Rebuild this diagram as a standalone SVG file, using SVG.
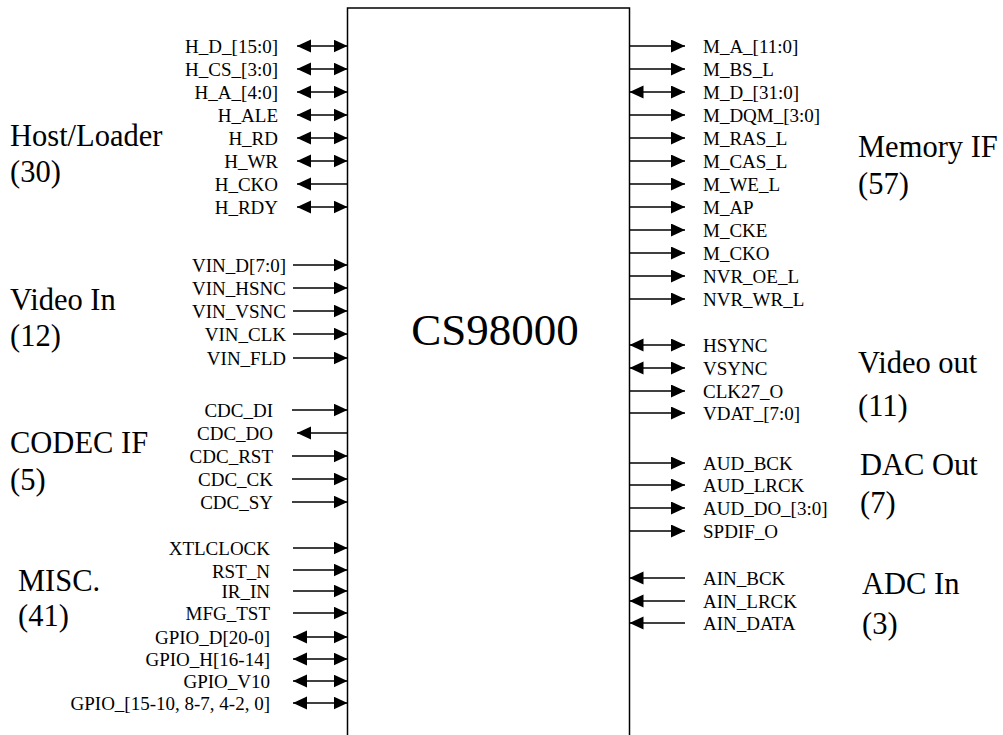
<svg xmlns="http://www.w3.org/2000/svg" width="1003" height="735" viewBox="0 0 1003 735">
<style>
text{font-family:"Liberation Serif","Times New Roman",serif;fill:#000}
.s{font-size:19px}
.sl{font-size:19px;text-anchor:end}
.g{font-size:30.5px}
.t{font-size:45px;text-anchor:middle}
.w{stroke:#000;stroke-width:1.4;fill:none}
.o{marker-end:url(#ah)}
.b{marker-start:url(#ah);marker-end:url(#ah)}
</style>
<defs>
<marker id="ah" markerUnits="userSpaceOnUse" markerWidth="15" markerHeight="14" refX="14" refY="6.5" orient="auto-start-reverse" viewBox="0 0 15 14">
<path d="M0,0 L14,6.5 L0,13 z" fill="#000"/>
</marker>
</defs>
<rect width="1003" height="735" fill="#fff"/>
<g id="chip">
<rect x="347.5" y="8" width="282" height="740" fill="none" stroke="#000" stroke-width="1.5"/>
<text class="t" x="495" y="345">CS98000</text>
</g>
<g id="groups">
<text class="g" x="10" y="146">Host/Loader</text>
<text class="g" x="10" y="182">(30)</text>
<text class="g" x="10" y="310">Video In</text>
<text class="g" x="10" y="346">(12)</text>
<text class="g" x="10" y="453">CODEC IF</text>
<text class="g" x="10" y="490">(5)</text>
<text class="g" x="18" y="591">MISC.</text>
<text class="g" x="18" y="626">(41)</text>
<text class="g" x="858" y="157">Memory IF</text>
<text class="g" x="858" y="194">(57)</text>
<text class="g" x="858" y="373">Video out</text>
<text class="g" x="858" y="416">(11)</text>
<text class="g" x="860" y="475">DAC Out</text>
<text class="g" x="860" y="513">(7)</text>
<text class="g" x="862" y="594">ADC In</text>
<text class="g" x="862" y="634">(3)</text>
</g>
<g id="labels-left">
<text class="sl" x="278" y="52.5">H_D_[15:0]</text>
<text class="sl" x="278" y="75.5">H_CS_[3:0]</text>
<text class="sl" x="278" y="98.5">H_A_[4:0]</text>
<text class="sl" x="278" y="121.5">H_ALE</text>
<text class="sl" x="278" y="144.5">H_RD</text>
<text class="sl" x="278" y="167.5">H_WR</text>
<text class="sl" x="278" y="190.5">H_CKO</text>
<text class="sl" x="278" y="213.5">H_RDY</text>
<text class="sl" x="286" y="271.5">VIN_D[7:0]</text>
<text class="sl" x="286" y="294.5">VIN_HSNC</text>
<text class="sl" x="286" y="317.5">VIN_VSNC</text>
<text class="sl" x="286" y="340.5">VIN_CLK</text>
<text class="sl" x="286" y="364.5">VIN_FLD</text>
<text class="sl" x="273" y="416.5">CDC_DI</text>
<text class="sl" x="273" y="439.5">CDC_DO</text>
<text class="sl" x="273" y="462.5">CDC_RST</text>
<text class="sl" x="273" y="485.5">CDC_CK</text>
<text class="sl" x="273" y="508.5">CDC_SY</text>
<text class="sl" x="270" y="555">XTLCLOCK</text>
<text class="sl" x="270" y="578">RST_N</text>
<text class="sl" x="270" y="598">IR_IN</text>
<text class="sl" x="270" y="620">MFG_TST</text>
<text class="sl" x="270" y="643.5">GPIO_D[20-0]</text>
<text class="sl" x="270" y="665.5">GPIO_H[16-14]</text>
<text class="sl" x="270" y="687.5">GPIO_V10</text>
<text class="sl" x="270" y="709.5">GPIO_[15-10, 8-7, 4-2, 0]</text>
</g>
<g id="labels-right">
<text class="s" x="703" y="52.5">M_A_[11:0]</text>
<text class="s" x="703" y="75.5">M_BS_L</text>
<text class="s" x="703" y="98.5">M_D_[31:0]</text>
<text class="s" x="703" y="121.5">M_DQM_[3:0]</text>
<text class="s" x="703" y="144.5">M_RAS_L</text>
<text class="s" x="703" y="167.5">M_CAS_L</text>
<text class="s" x="703" y="190.5">M_WE_L</text>
<text class="s" x="703" y="213.5">M_AP</text>
<text class="s" x="703" y="236.5">M_CKE</text>
<text class="s" x="703" y="259.5">M_CKO</text>
<text class="s" x="703" y="282.5">NVR_OE_L</text>
<text class="s" x="703" y="305.5">NVR_WR_L</text>
<text class="s" x="703" y="351.5">HSYNC</text>
<text class="s" x="703" y="374.5">VSYNC</text>
<text class="s" x="703" y="397.5">CLK27_O</text>
<text class="s" x="703" y="420">VDAT_[7:0]</text>
<text class="s" x="703" y="469.5">AUD_BCK</text>
<text class="s" x="703" y="492">AUD_LRCK</text>
<text class="s" x="703" y="515">AUD_DO_[3:0]</text>
<text class="s" x="703" y="538">SPDIF_O</text>
<text class="s" x="703" y="585">AIN_BCK</text>
<text class="s" x="703" y="608">AIN_LRCK</text>
<text class="s" x="703" y="630">AIN_DATA</text>
</g>
<g id="connectors" class="w">
<line class="b" x1="297" y1="46" x2="347.5" y2="46"/>
<line class="b" x1="297" y1="69" x2="347.5" y2="69"/>
<line class="b" x1="297" y1="92" x2="347.5" y2="92"/>
<line class="b" x1="297" y1="115" x2="347.5" y2="115"/>
<line class="b" x1="297" y1="138" x2="347.5" y2="138"/>
<line class="b" x1="297" y1="161" x2="347.5" y2="161"/>
<line class="o" x1="347.5" y1="184" x2="297" y2="184"/>
<line class="b" x1="297" y1="207" x2="347.5" y2="207"/>
<line class="o" x1="293" y1="265" x2="347.5" y2="265"/>
<line class="o" x1="293" y1="288" x2="347.5" y2="288"/>
<line class="o" x1="293" y1="311" x2="347.5" y2="311"/>
<line class="o" x1="293" y1="334" x2="347.5" y2="334"/>
<line class="o" x1="293" y1="358" x2="347.5" y2="358"/>
<line class="o" x1="292" y1="410" x2="347.5" y2="410"/>
<line class="o" x1="347.5" y1="433" x2="297" y2="433"/>
<line class="o" x1="292" y1="456" x2="347.5" y2="456"/>
<line class="o" x1="292" y1="479" x2="347.5" y2="479"/>
<line class="o" x1="292" y1="502" x2="347.5" y2="502"/>
<line class="o" x1="293" y1="548" x2="347.5" y2="548"/>
<line class="o" x1="293" y1="570" x2="347.5" y2="570"/>
<line class="o" x1="293" y1="591" x2="347.5" y2="591"/>
<line class="o" x1="293" y1="613" x2="347.5" y2="613"/>
<line class="b" x1="293" y1="637" x2="347.5" y2="637"/>
<line class="b" x1="293" y1="659" x2="347.5" y2="659"/>
<line class="b" x1="293" y1="681" x2="347.5" y2="681"/>
<line class="b" x1="293" y1="703" x2="347.5" y2="703"/>
<line class="o" x1="629.5" y1="46" x2="685" y2="46"/>
<line class="o" x1="629.5" y1="69" x2="685" y2="69"/>
<line class="b" x1="629.5" y1="92" x2="685" y2="92"/>
<line class="o" x1="629.5" y1="115" x2="685" y2="115"/>
<line class="o" x1="629.5" y1="138" x2="685" y2="138"/>
<line class="o" x1="629.5" y1="161" x2="685" y2="161"/>
<line class="o" x1="629.5" y1="184" x2="685" y2="184"/>
<line class="o" x1="629.5" y1="207" x2="685" y2="207"/>
<line class="o" x1="629.5" y1="230" x2="685" y2="230"/>
<line class="o" x1="629.5" y1="253" x2="685" y2="253"/>
<line class="o" x1="629.5" y1="276" x2="685" y2="276"/>
<line class="o" x1="629.5" y1="299" x2="685" y2="299"/>
<line class="b" x1="629.5" y1="345" x2="685" y2="345"/>
<line class="b" x1="629.5" y1="368" x2="685" y2="368"/>
<line class="o" x1="629.5" y1="391" x2="685" y2="391"/>
<line class="o" x1="629.5" y1="413" x2="685" y2="413"/>
<line class="o" x1="629.5" y1="463" x2="685" y2="463"/>
<line class="o" x1="629.5" y1="485" x2="685" y2="485"/>
<line class="o" x1="629.5" y1="508" x2="685" y2="508"/>
<line class="o" x1="629.5" y1="531" x2="685" y2="531"/>
<line class="o" x1="685" y1="578" x2="629.5" y2="578"/>
<line class="o" x1="685" y1="601" x2="629.5" y2="601"/>
<line class="o" x1="685" y1="623" x2="629.5" y2="623"/>
</g>
</svg>
